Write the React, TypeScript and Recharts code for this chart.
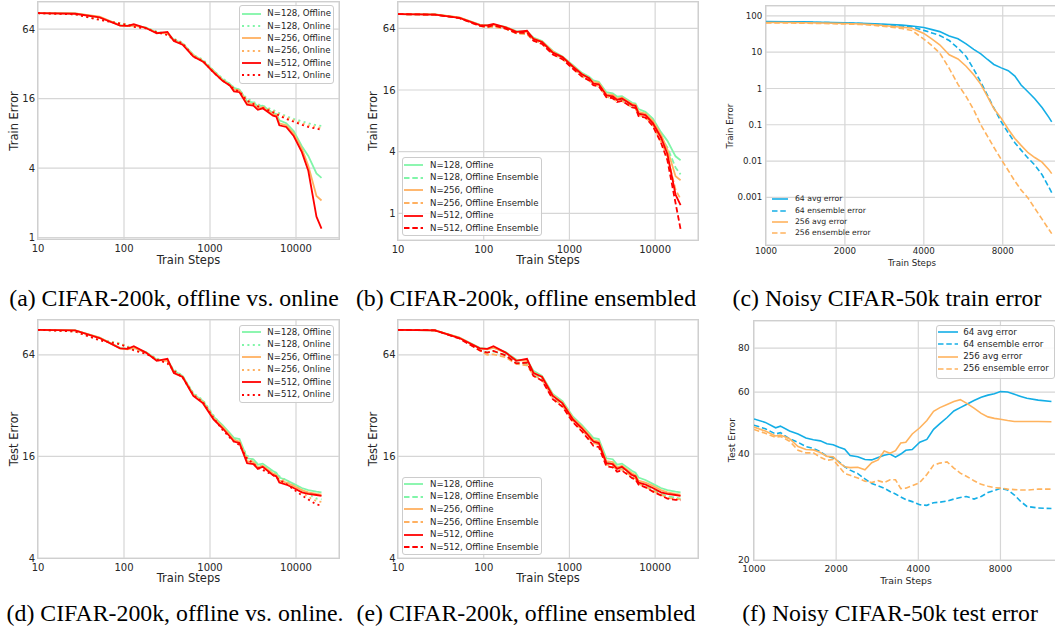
import React from "react";
import { LineChart, Line, XAxis, YAxis, CartesianGrid } from "recharts";

const FONT = "'DejaVu Sans', sans-serif";
const SERIF = "'Liberation Serif', 'Times New Roman', serif";
const INK = "#262626";
const GRID = "#d6d6d6";
const GREEN = "#80f5a8";
const ORANGE = "#ffb060";
const RED = "#ff0000";
const BLUE = "#14aee6";
const ORANGE2 = "#ffb35e";
const DOT = "2 3.4";
const DASH = "5.5 2.8";

// CIFAR-200k: train steps (log axis)
const STEPS_CIFAR = [10, 27, 52, 90, 110, 130, 180, 240, 320, 380, 480, 640, 830, 1100, 1400, 1700, 1900, 2200, 2700, 3200, 3600, 4100, 5400, 5900, 6400, 7700, 9400, 11700, 13900, 17300, 19800];
const X_TICKS_CIFAR = [10, 100, 1000, 10000];

// train error
const TRAIN_OFF_128 = [88, 87.5, 81.5, 69.5, 68.5, 69, 66, 60, 59, 52, 48, 38.5, 34, 28, 23.5, 21.5, 19.8, 19.2, 15.2, 14.8, 13.8, 13.9, 12, 11.8, 10.4, 9.8, 8.4, 6.2, 5.1, 3.6, 3.3];
const TRAIN_OFF_256 = [88, 87.5, 82, 69, 68, 68.8, 65.8, 59.5, 58.8, 51, 47.5, 38, 33.5, 27.5, 23, 21, 19.2, 18.8, 14.6, 14.3, 13.2, 13.5, 11.7, 11.5, 9.8, 9.4, 8.0, 5.9, 4.2, 2.3, 2.1];
const TRAIN_OFF_512 = [88, 87, 81, 68.8, 68.4, 70.5, 65.5, 59, 60.5, 50.5, 47, 37, 33.5, 27, 22.8, 20.8, 18.5, 18.2, 14.2, 13.9, 12.8, 13.2, 11.4, 11.2, 9.4, 9.1, 7.6, 5.5, 3.8, 1.52, 1.2];
const TRAIN_ON_128 = [88, 86, 78, 72, 70, 68, 66, 61, 58, 53, 49, 38, 35, 28, 24, 21.5, 20, 19, 16, 15, 14.3, 13.9, 12.8, 12.4, 12, 11.3, 10.7, 10.2, 9.8, 9.4, 9.3];
const TRAIN_ON_256 = [88, 86, 77.5, 72, 70, 67.5, 65.5, 60.5, 57.5, 52.5, 48.5, 37.5, 34.5, 27.5, 23.5, 21, 19.7, 18.7, 15.6, 14.7, 14, 13.6, 12.5, 12.1, 11.7, 11.0, 10.4, 9.8, 9.4, 9.1, 8.9];
const TRAIN_ON_512 = [88, 86, 77, 71.5, 69.5, 67, 65, 60, 57, 52, 48, 37, 34, 27, 23, 20.8, 19.4, 18.4, 15.3, 14.4, 13.7, 13.3, 12.2, 11.8, 11.4, 10.7, 10.1, 9.5, 9.1, 8.8, 8.6];
const TRAIN_ENS_128 = [88, 87, 81, 68, 66, 66.5, 64, 57.5, 56.5, 49.5, 46, 36.5, 32.5, 26.5, 22.3, 20.3, 18.6, 18, 14.2, 13.8, 12.8, 13, 11.2, 11, 9.6, 9.1, 7.8, 5.5, 4.4, 2.8, 2.4];
const TRAIN_ENS_256 = [88, 87, 81, 67.5, 65.5, 66, 63.5, 57, 56, 49, 45.5, 36, 32, 26, 21.8, 19.8, 18.1, 17.5, 13.7, 13.3, 12.3, 12.5, 10.8, 10.6, 9.1, 8.7, 7.3, 5.0, 3.6, 1.7, 1.38];
const TRAIN_ENS_512 = [88, 87, 80.5, 67.5, 66, 68.5, 63.5, 57.5, 58, 48.5, 45, 35.5, 32, 25.8, 21.6, 19.8, 17.8, 17.4, 13.6, 13.3, 12.2, 12.5, 10.8, 10.7, 8.9, 8.6, 7.1, 4.9, 3.3, 1.26, 0.7];

// test error
const TEST_OFF_128 = [90, 89.5, 81, 70.5, 69.5, 70.5, 66.5, 60, 59.5, 51.5, 48, 37.5, 34, 27.5, 24.5, 22, 20.6, 20.3, 15.6, 15.4, 14.3, 14.5, 13.1, 12.8, 12, 11.6, 11.0, 10.4, 10.1, 9.9, 9.8];
const TEST_OFF_256 = [90, 89.5, 81, 70, 69, 70.5, 66, 59.5, 59, 50.5, 47.5, 37, 33.5, 27, 24, 21.5, 20, 19.6, 15, 14.8, 13.8, 14.1, 12.7, 12.4, 11.5, 11.2, 10.7, 10.1, 9.8, 9.6, 9.5];
const TEST_OFF_512 = [90, 89.5, 80.5, 70, 69.5, 72, 66, 59, 60.6, 50, 47.3, 36.5, 33, 26.5, 23.5, 21, 19.6, 19.2, 14.6, 14.4, 13.5, 13.9, 12.4, 12.2, 11.2, 10.9, 10.4, 9.8, 9.6, 9.45, 9.35];
const TEST_ON_128 = [90, 88, 79, 75, 72, 69, 66, 61, 58, 52.5, 48, 38, 34.5, 28, 24, 21.5, 20.5, 19.5, 16.2, 15.2, 14.4, 14, 13, 12.6, 12.2, 11.6, 10.8, 10.1, 9.6, 9.0, 8.9];
const TEST_ON_256 = [90, 88, 78.5, 74.5, 71.5, 68.5, 65.5, 60.5, 57.5, 52, 47.5, 37.5, 34, 27.5, 23.5, 21, 20, 19, 15.8, 14.8, 14, 13.6, 12.7, 12.3, 11.9, 11.3, 10.5, 9.8, 9.2, 8.7, 8.6];
const TEST_ON_512 = [90, 88, 78, 74, 71, 68, 65, 60, 57, 51.5, 47, 37, 33.5, 27, 23, 20.7, 19.6, 18.7, 15.5, 14.5, 13.7, 13.3, 12.4, 12, 11.6, 11.0, 10.2, 9.4, 8.9, 8.3, 8.2];
const TEST_ENS_128 = [90, 89.5, 80.5, 68.5, 66, 67, 64, 57.5, 56.5, 49.5, 46, 36, 32.5, 26.5, 23.5, 21, 19.6, 19.2, 14.8, 14.5, 13.6, 13.7, 12.3, 12, 11.2, 10.8, 10.2, 9.6, 9.3, 9.1, 9.0];
const TEST_ENS_256 = [90, 89.5, 80.5, 68, 64, 64.5, 62, 56.5, 55.5, 48.5, 45.5, 35.5, 32, 26, 23, 20.5, 19.2, 18.8, 14.3, 14.1, 13.3, 13.4, 12.1, 11.8, 11, 10.6, 10.0, 9.5, 9.1, 8.95, 8.9];
const TEST_ENS_512 = [90, 89.5, 80, 68, 66, 67.5, 63.5, 57, 57.5, 48, 45, 35, 31.5, 25.5, 22.5, 20, 18.5, 18.2, 14, 13.8, 13, 13.2, 11.9, 11.7, 10.9, 10.5, 9.9, 9.4, 9.0, 8.85, 8.8];

// Noisy CIFAR-50k
const X_TICKS_NOISY = [1000, 2000, 4000, 8000];
const STEPS_NOISY_TRAIN = [1000, 1200, 1400, 1600, 1800, 2000, 2300, 2600, 3000, 3300, 3600, 4000, 4300, 4600, 5000, 5400, 5800, 6200, 6600, 7000, 7400, 7900, 8400, 8900, 9400, 10000, 10600, 11300, 12000, 12300];
const NTR_AVG_64 = [70, 69, 68.5, 67, 66, 65, 63, 61, 58, 56, 53, 48, 42, 37, 28, 23.5, 17, 12, 9, 6.3, 4.6, 3.7, 3.1, 2.2, 1.25, 0.8, 0.52, 0.3, 0.16, 0.12];
const NTR_ENS_64 = [68, 67.5, 67, 66, 65, 64, 62, 59, 56, 53, 50, 40, 34, 29, 21, 13, 7.6, 3.4, 1.5, 0.65, 0.29, 0.12, 0.06, 0.032, 0.02, 0.012, 0.0078, 0.0042, 0.0019, 0.00135];
const NTR_AVG_256 = [66, 66, 65, 64, 63, 62, 60, 57, 52, 49, 46, 33, 23, 16, 8.5, 6.5, 4.1, 2.4, 1.3, 0.6, 0.28, 0.15, 0.075, 0.042, 0.027, 0.017, 0.0125, 0.0093, 0.0058, 0.0045];
const NTR_ENS_256 = [64, 64, 63, 62, 61, 60, 58, 55, 49, 45, 40, 23, 15, 9.5, 3.6, 1.3, 0.6, 0.26, 0.1, 0.048, 0.024, 0.011, 0.0055, 0.0028, 0.0016, 0.00095, 0.0005, 0.00025, 0.00013, 0.0001];

const STEPS_NOISY_TEST = [1000, 1100, 1200, 1250, 1350, 1450, 1550, 1650, 1750, 1850, 1950, 2050, 2150, 2250, 2400, 2550, 2700, 2850, 3000, 3150, 3300, 3450, 3600, 3800, 4050, 4300, 4550, 4800, 5100, 5400, 5700, 6000, 6400, 6800, 7200, 7600, 8000, 8500, 9000, 9500, 10000, 11000, 12300];
const NTE_AVG_64 = [50.3, 49.2, 47.5, 48, 46.5, 45.6, 44.4, 43.9, 43.6, 42.8, 42.5, 41.8, 41.3, 39.6, 39.3, 38.6, 38.5, 39.1, 39.7, 40, 39.2, 40, 41, 41.2, 43.2, 44, 47, 48.8, 50.8, 53, 54.2, 55.3, 56.8, 58, 58.8, 59.3, 60.2, 60, 59.1, 58.3, 57.6, 56.9, 56.4];
const NTE_ENS_64 = [48.3, 47.2, 45.6, 46, 44.2, 43.2, 42, 41.5, 40.6, 39.4, 39, 38, 36.8, 36, 35.2, 34, 33, 32.5, 32, 31.3, 30.8, 30.2, 29.7, 29.3, 28.7, 28.6, 29.1, 29.2, 29.4, 29.8, 30.1, 30.3, 29.8, 30.3, 31.1, 31.5, 32, 31.6, 30.6, 29.3, 28.4, 28.1, 28];
const NTE_AVG_256 = [47.7, 46.5, 45, 45.3, 44.2, 42, 41.2, 41.1, 40.4, 39.4, 39.3, 37.8, 36.8, 36.6, 36.7, 36.1, 37.8, 38.5, 40.8, 40.2, 40.9, 43, 43.2, 45.6, 47.5, 49.8, 52.9, 54.2, 55.3, 56.4, 57.1, 55.8, 54, 52.2, 51, 50.5, 50.2, 49.8, 49.5, 49.5, 49.5, 49.5, 49.4];
const NTE_ENS_256 = [47, 45.8, 44.6, 44.9, 43.5, 41, 40.3, 40.3, 39.2, 38.4, 38.6, 36.8, 35.2, 34.8, 34.2, 33.5, 33.2, 33.6, 33.2, 33.8, 33.8, 31.9, 32, 32.5, 33.2, 35, 37.2, 37.7, 38, 36.5, 35.3, 34.6, 33.6, 32.8, 32.4, 32.1, 32, 31.8, 31.7, 31.6, 31.6, 31.8, 31.8];

type Series = { key: string; label: string; color: string; dash?: string; values: number[] };
type Leg = { x: number; y: number; w: number; h: number; rowH: number; padT: number; padL: number; font: number; sample: number; gap: number; framed: boolean };
type PanelCfg = {
  box: { x: number; y: number; w: number; h: number };
  plot: { l: number; t: number; r: number; b: number };
  steps: number[];
  series: Series[];
  xDomain: [number, number];
  xTicks: number[];
  yDomain: [number, number];
  yTicks: number[];
  tickFont: number;
  xTickGap: number;
  yTickGap: number;
  labelFont: number;
  lineW: number;
  xLabel: string;
  yLabel: string;
  xLabelAt: [number, number];
  yLabelAt: [number, number];
  legend: Leg;
  caption: string;
  captionAt: [number, number];
};

const onlineSeries = (a: number[], b: number[], c: number[], d: number[], e: number[], f: number[]): Series[] => [
  { key: "off128", label: "N=128, Offline", color: GREEN, values: a },
  { key: "on128", label: "N=128, Online", color: GREEN, dash: DOT, values: b },
  { key: "off256", label: "N=256, Offline", color: ORANGE, values: c },
  { key: "on256", label: "N=256, Online", color: ORANGE, dash: DOT, values: d },
  { key: "off512", label: "N=512, Offline", color: RED, values: e },
  { key: "on512", label: "N=512, Online", color: RED, dash: DOT, values: f },
];

const ensSeries = (a: number[], b: number[], c: number[], d: number[], e: number[], f: number[]): Series[] => [
  { key: "off128", label: "N=128, Offline", color: GREEN, values: a },
  { key: "ens128", label: "N=128, Offline Ensemble", color: GREEN, dash: DASH, values: b },
  { key: "off256", label: "N=256, Offline", color: ORANGE, values: c },
  { key: "ens256", label: "N=256, Offline Ensemble", color: ORANGE, dash: DASH, values: d },
  { key: "off512", label: "N=512, Offline", color: RED, values: e },
  { key: "ens512", label: "N=512, Offline Ensemble", color: RED, dash: DASH, values: f },
];

const noisySeries = (a: number[], b: number[], c: number[], d: number[]): Series[] => [
  { key: "avg64", label: "64 avg error", color: BLUE, values: a },
  { key: "ens64", label: "64 ensemble error", color: BLUE, dash: DASH, values: b },
  { key: "avg256", label: "256 avg error", color: ORANGE2, values: c },
  { key: "ens256", label: "256 ensemble error", color: ORANGE2, dash: DASH, values: d },
];

const PANELS: PanelCfg[] = [
  {
    box: { x: 0, y: 0, w: 350, h: 272 },
    plot: { l: 38, t: 2, r: 339, b: 239 },
    steps: STEPS_CIFAR,
    series: onlineSeries(TRAIN_OFF_128, TRAIN_ON_128, TRAIN_OFF_256, TRAIN_ON_256, TRAIN_OFF_512, TRAIN_ON_512),
    xDomain: [10, 31623], xTicks: X_TICKS_CIFAR,
    yDomain: [0.974, 110], yTicks: [1, 4, 16, 64],
    tickFont: 10, xTickGap: 5.5, yTickGap: 3, labelFont: 11.5, lineW: 1.8,
    xLabel: "Train Steps", yLabel: "Train Error", xLabelAt: [188.5, 261], yLabelAt: [15, 120.5],
    legend: { x: 239.3, y: 5.3, w: 95, h: 78.4, rowH: 12.3, padT: 1.2, padL: 2, font: 8.6, sample: 19, gap: 6, framed: true },
    caption: "(a) CIFAR-200k, offline vs. online", captionAt: [174, 306.7],
  },
  {
    box: { x: 350, y: 0, w: 350, h: 272 },
    plot: { l: 398, t: 2, r: 698, b: 240 },
    steps: STEPS_CIFAR,
    series: ensSeries(TRAIN_OFF_128, TRAIN_ENS_128, TRAIN_OFF_256, TRAIN_ENS_256, TRAIN_OFF_512, TRAIN_ENS_512),
    xDomain: [10, 31623], xTicks: X_TICKS_CIFAR,
    yDomain: [0.549, 115.6], yTicks: [1, 4, 16, 64],
    tickFont: 10, xTickGap: 5.5, yTickGap: 2.5, labelFont: 11.5, lineW: 1.8,
    xLabel: "Train Steps", yLabel: "Train Error", xLabelAt: [548, 261], yLabelAt: [374, 121],
    legend: { x: 401.7, y: 157.2, w: 140, h: 79, rowH: 12.7, padT: 0.3, padL: 1.6, font: 8.6, sample: 19, gap: 6.7, framed: true },
    caption: "(b) CIFAR-200k, offline ensembled", captionAt: [526, 306.7],
  },
  {
    box: { x: 700, y: 0, w: 358, h: 272 },
    plot: { l: 766, t: 6, r: 1058, b: 245 },
    steps: STEPS_NOISY_TRAIN,
    series: noisySeries(NTR_AVG_64, NTR_ENS_64, NTR_AVG_256, NTR_ENS_256),
    xDomain: [1000, 13000], xTicks: X_TICKS_NOISY,
    yDomain: [4.85e-5, 188], yTicks: [0.001, 0.01, 0.1, 1, 10, 100],
    tickFont: 8.7, xTickGap: 2.5, yTickGap: 3.7, labelFont: 8.7, lineW: 1.6,
    xLabel: "Train Steps", yLabel: "Train Error", xLabelAt: [912, 263], yLabelAt: [730, 125.5],
    legend: { x: 771.7, y: 193.6, w: 120, h: 46, rowH: 11.3, padT: 0, padL: 0, font: 7.7, sample: 16.6, gap: 6.7, framed: false },
    caption: "(c) Noisy CIFAR-50k train error", captionAt: [887, 306.7],
  },
  {
    box: { x: 0, y: 315, w: 350, h: 272 },
    plot: { l: 38, t: 320, r: 339, b: 558 },
    steps: STEPS_CIFAR,
    series: onlineSeries(TEST_OFF_128, TEST_ON_128, TEST_OFF_256, TEST_ON_256, TEST_OFF_512, TEST_ON_512),
    xDomain: [10, 31623], xTicks: X_TICKS_CIFAR,
    yDomain: [4, 103], yTicks: [4, 16, 64],
    tickFont: 10, xTickGap: 5.5, yTickGap: 3, labelFont: 11.5, lineW: 1.8,
    xLabel: "Train Steps", yLabel: "Test Error", xLabelAt: [188.5, 579], yLabelAt: [15, 439],
    legend: { x: 239.3, y: 325, w: 95, h: 78, rowH: 12.5, padT: 0, padL: 2, font: 8.6, sample: 19, gap: 6, framed: true },
    caption: "(d) CIFAR-200k, offline vs. online.", captionAt: [175, 621.7],
  },
  {
    box: { x: 350, y: 315, w: 350, h: 272 },
    plot: { l: 398, t: 320, r: 698, b: 558 },
    steps: STEPS_CIFAR,
    series: ensSeries(TEST_OFF_128, TEST_ENS_128, TEST_OFF_256, TEST_ENS_256, TEST_OFF_512, TEST_ENS_512),
    xDomain: [10, 31623], xTicks: X_TICKS_CIFAR,
    yDomain: [4, 103], yTicks: [4, 16, 64],
    tickFont: 10, xTickGap: 5.5, yTickGap: 2.5, labelFont: 11.5, lineW: 1.8,
    xLabel: "Train Steps", yLabel: "Test Error", xLabelAt: [548, 579], yLabelAt: [374, 439],
    legend: { x: 401.7, y: 476.7, w: 140, h: 78.5, rowH: 12.7, padT: 0, padL: 1.6, font: 8.6, sample: 19, gap: 6.7, framed: true },
    caption: "(e) CIFAR-200k, offline ensembled", captionAt: [526, 621.7],
  },
  {
    box: { x: 700, y: 315, w: 358, h: 272 },
    plot: { l: 754, t: 321, r: 1058, b: 560 },
    steps: STEPS_NOISY_TEST,
    series: noisySeries(NTE_AVG_64, NTE_ENS_64, NTE_AVG_256, NTE_ENS_256),
    xDomain: [1000, 13000], xTicks: X_TICKS_NOISY,
    yDomain: [20, 95.5], yTicks: [20, 40, 60, 80],
    tickFont: 9.2, xTickGap: 5, yTickGap: 4.3, labelFont: 9.4, lineW: 1.6,
    xLabel: "Train Steps", yLabel: "Test Error", xLabelAt: [906, 580.5], yLabelAt: [731.7, 440],
    legend: { x: 935.7, y: 325, w: 119, h: 53.5, rowH: 12.2, padT: 0.2, padL: 1.6, font: 8.7, sample: 20, gap: 5, framed: true },
    caption: "(f) Noisy CIFAR-50k test error", captionAt: [890, 621.7],
  },
];

function LegendBox({ lg, series, lineW }: { lg: Leg; series: Series[]; lineW: number }) {
  return (
    <div
      style={{
        position: "absolute",
        left: lg.x,
        top: lg.y,
        width: lg.w,
        height: lg.h,
        boxSizing: "border-box",
        padding: `${lg.padT}px 0 0 ${lg.padL}px`,
        background: lg.framed ? "rgba(255,255,255,0.85)" : "transparent",
        border: lg.framed ? "1px solid #cccccc" : "none",
        borderRadius: 3,
        fontFamily: FONT,
        fontSize: lg.font,
        color: INK,
      }}
    >
      {series.map((se) => (
        <div key={se.key} style={{ display: "flex", alignItems: "center", height: lg.rowH }}>
          <svg width={lg.sample} height={4} style={{ marginRight: lg.gap, flex: "none" }}>
            <line x1={0} y1={2} x2={lg.sample} y2={2} stroke={se.color} strokeWidth={lineW} strokeDasharray={se.dash} />
          </svg>
          <span style={{ whiteSpace: "nowrap", lineHeight: 1 }}>{se.label}</span>
        </div>
      ))}
    </div>
  );
}

function Panel({ p }: { p: PanelCfg }) {
  const { box, plot } = p;
  const data = p.steps.map((s, i) => {
    const row: Record<string, number> = { step: s };
    p.series.forEach((se) => {
      row[se.key] = se.values[i];
    });
    return row;
  });
  const tick = { fill: INK, fontSize: p.tickFont, fontFamily: FONT };
  const label = (text: string, at: [number, number], rotate: boolean) => (
    <div
      style={{
        position: "absolute",
        left: at[0],
        top: at[1],
        transform: `translate(-50%, -50%)${rotate ? " rotate(-90deg)" : ""}`,
        whiteSpace: "nowrap",
        fontFamily: FONT,
        fontSize: p.labelFont,
        color: INK,
        lineHeight: 1,
      }}
    >
      {text}
    </div>
  );
  return (
    <>
      <div style={{ position: "absolute", left: box.x, top: box.y }}>
        <LineChart
          width={box.w}
          height={box.h}
          data={data}
          margin={{ top: plot.t - box.y, right: box.x + box.w - plot.r, bottom: 0, left: 0 }}
        >
          <CartesianGrid stroke={GRID} strokeWidth={1.2} />
          <XAxis
            dataKey="step"
            type="number"
            scale="log"
            domain={p.xDomain}
            allowDataOverflow
            ticks={p.xTicks}
            interval={0}
            height={box.y + box.h - plot.b}
            tick={tick}
            tickLine={false}
            axisLine={false}
            tickSize={0}
            tickMargin={p.xTickGap}
            tickFormatter={(v: number) => String(v)}
          />
          <YAxis
            type="number"
            scale="log"
            domain={p.yDomain}
            allowDataOverflow
            ticks={p.yTicks}
            interval={0}
            width={plot.l - box.x}
            tick={tick}
            tickLine={false}
            axisLine={false}
            tickSize={0}
            tickMargin={p.yTickGap}
            tickFormatter={(v: number) => String(v)}
          />
          {p.series.map((se) => (
            <Line
              key={se.key}
              dataKey={se.key}
              type="linear"
              stroke={se.color}
              strokeWidth={p.lineW}
              strokeDasharray={se.dash}
              dot={false}
              activeDot={false}
              isAnimationActive={false}
            />
          ))}
        </LineChart>
      </div>
      <div
        style={{
          position: "absolute",
          left: plot.l - 0.6,
          top: plot.t - 0.6,
          width: plot.r - plot.l + 1.2,
          height: plot.b - plot.t + 1.2,
          boxSizing: "border-box",
          border: "1.2px solid #cfcfcf",
          pointerEvents: "none",
        }}
      />
      {label(p.xLabel, p.xLabelAt, false)}
      {label(p.yLabel, p.yLabelAt, true)}
      <LegendBox lg={p.legend} series={p.series} lineW={p.lineW} />
      <div
        style={{
          position: "absolute",
          left: p.captionAt[0] - 200,
          width: 400,
          top: p.captionAt[1] - 19.7,
          textAlign: "center",
          fontFamily: SERIF,
          fontSize: 23.8,
          lineHeight: "23.8px",
          color: "#000",
          whiteSpace: "nowrap",
        }}
      >
        {p.caption}
      </div>
    </>
  );
}

export default function App() {
  return (
    <div style={{ position: "relative", width: 1055, height: 632, overflow: "hidden", background: "#fff" }}>
      <style>{"body{margin:0}"}</style>
      {PANELS.map((p, i) => (
        <Panel key={i} p={p} />
      ))}
    </div>
  );
}
